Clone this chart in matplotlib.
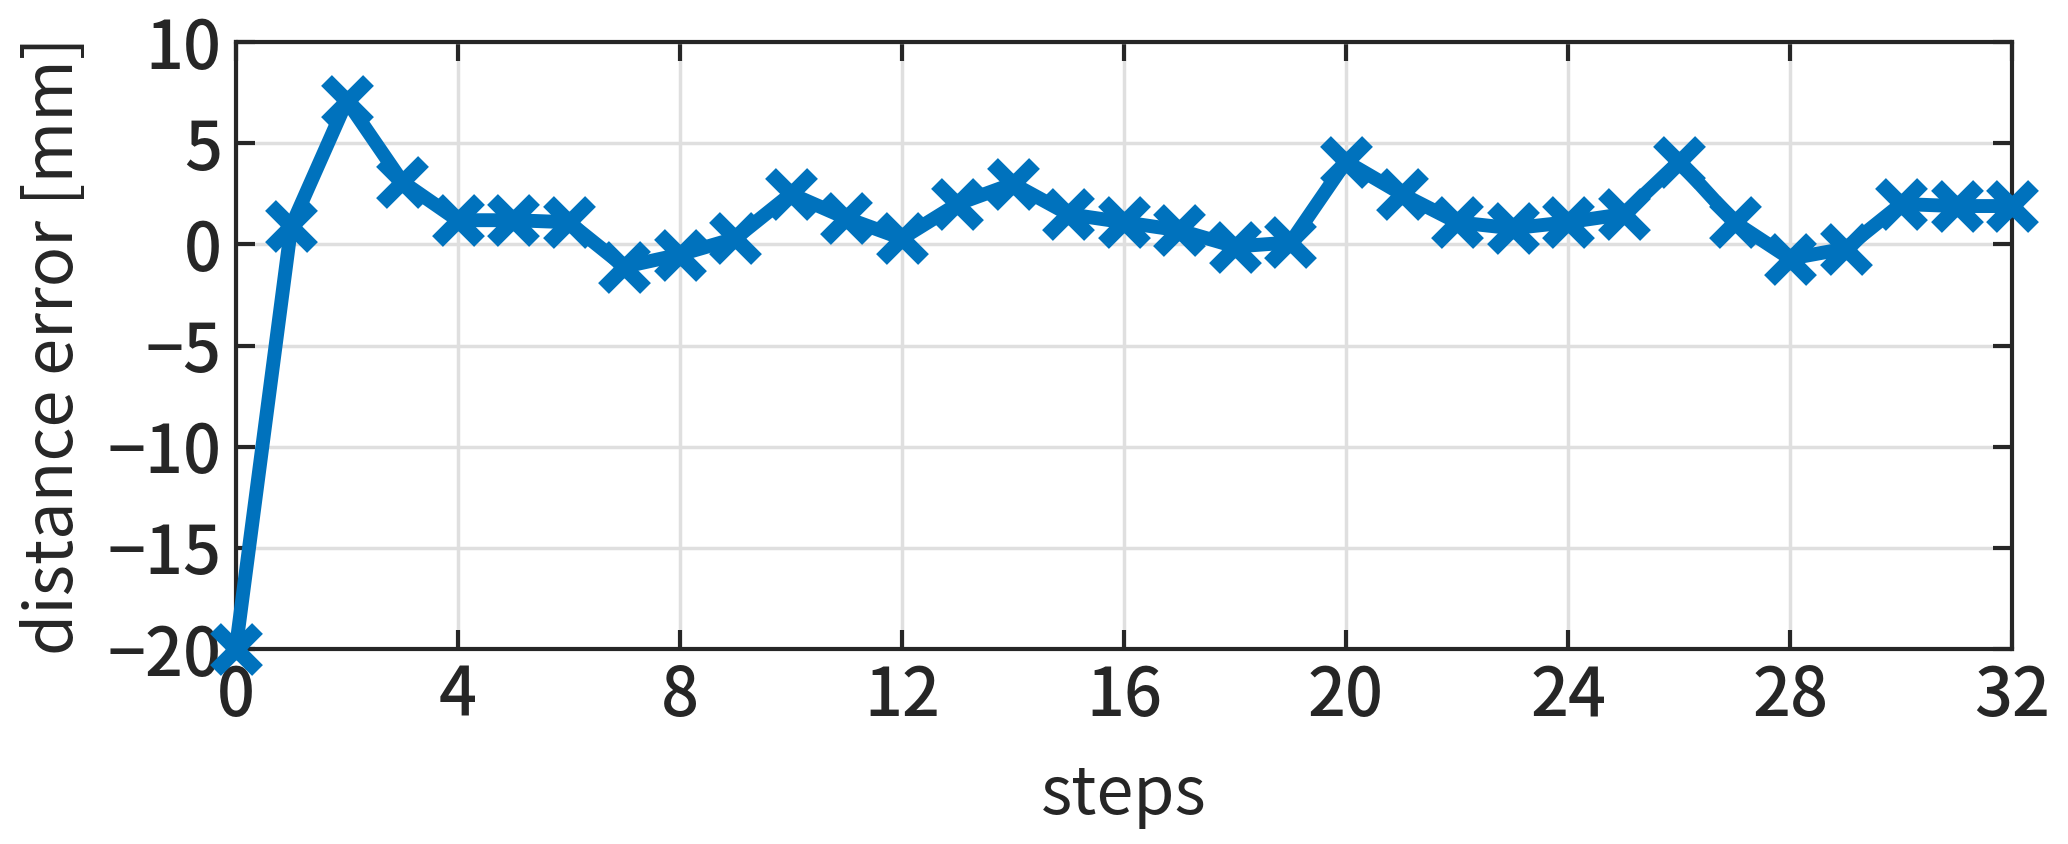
import matplotlib
matplotlib.use('Agg')
import matplotlib.pyplot as plt

# データ
steps = list(range(33))
error_mm = [-20.0, 0.9, 7.1, 3.1, 1.2, 1.2, 1.1, -1.1, -0.5, 0.3,
            2.5, 1.3, 0.3, 2.0, 3.0, 1.5, 1.1, 0.7, -0.1, 0.1,
            4.1, 2.5, 1.1, 0.8, 1.1, 1.5, 4.1, 1.1, -0.7, -0.2,
            2.0, 1.9, 1.9]
x_ticks = [0, 4, 8, 12, 16, 20, 24, 28, 32]
y_ticks = [-20, -15, -10, -5, 0, 5, 10]

plt.rcParams['font.family'] = ['Noto Sans CJK JP', 'DejaVu Sans']
plt.rcParams['font.weight'] = 'medium'
plt.rcParams['axes.unicode_minus'] = True

fig = plt.figure(figsize=(20.68, 8.44), dpi=100)
ax = fig.add_axes([0.114, 0.231, 0.859, 0.719])

ax.plot(steps, error_mm, color='#0072BD', linewidth=10, marker='x',
        markersize=30, markeredgewidth=11, clip_on=False, zorder=3)

ax.set_xlim(0, 32)
ax.set_ylim(-20, 10)
ax.set_xticks(x_ticks)
ax.set_yticks(y_ticks)
ax.grid(True, color='#dfdfdf', linewidth=2.5)
ax.set_axisbelow(True)

for s in ax.spines.values():
    s.set_color('#262626')
    s.set_linewidth(3)
ax.tick_params(direction='in', length=14, width=3, color='#262626',
               top=True, right=True, labelsize=48, labelcolor='#262626', pad=10)

ax.set_xlabel('steps', fontsize=48, color='#262626', labelpad=22)
ax.set_ylabel('distance error [mm]', fontsize=48, color='#262626', labelpad=14)

fig.savefig('out.png', dpi=100)
